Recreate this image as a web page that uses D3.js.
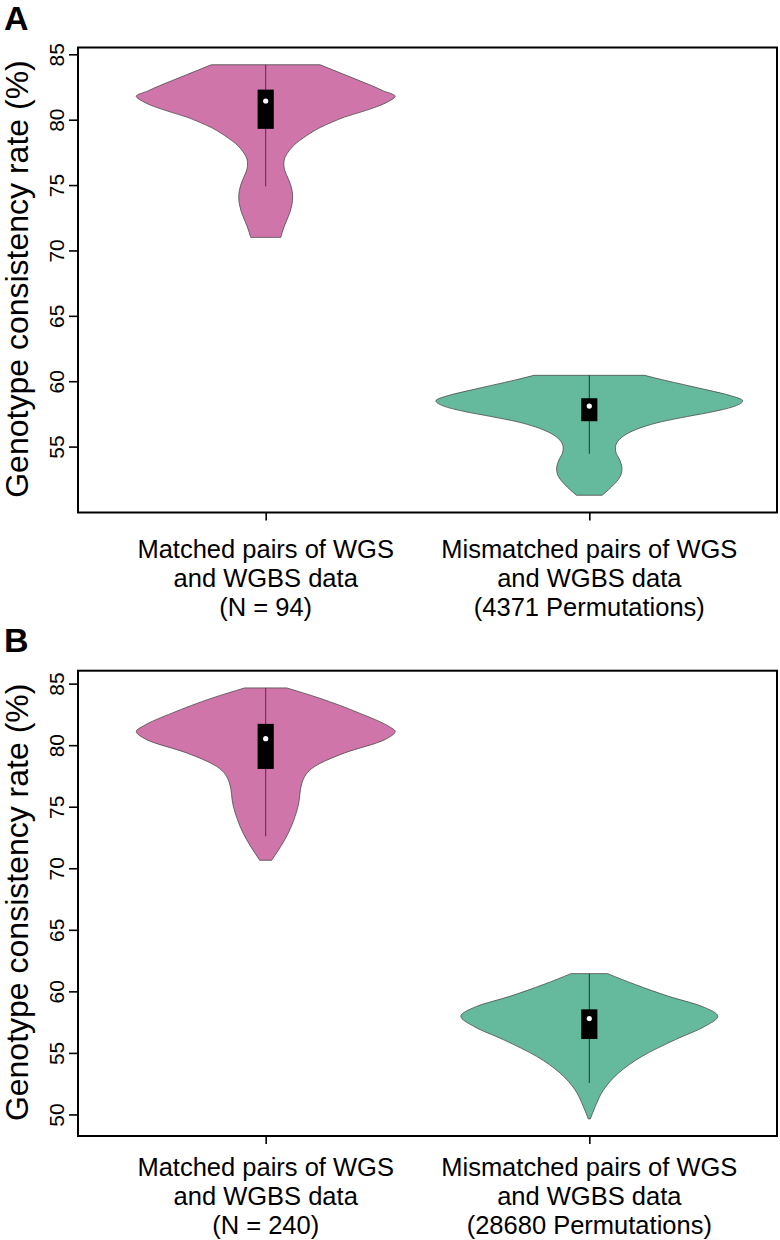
<!DOCTYPE html>
<html>
<head>
<meta charset="utf-8">
<script src="https://cdn.jsdelivr.net/npm/d3@7"></script>
<style>
  html, body { margin: 0; padding: 0; background: #fff; }
  svg { display: block; }
  text { font-family: "Liberation Sans", Arial, sans-serif; fill: #000; }
</style>
</head>
<body>
<svg id="chart" width="780" height="1240"></svg>
<script>
// ---------------- data ----------------
const panelLetters = ["A", "B"];
const categoryLine1 = ["Matched pairs of WGS", "Mismatched pairs of WGS"];
const categoryLine2 = ["and WGBS data", "and WGBS data"];
const countLabelsA = ["(N = 94)", "(4371 Permutations)"];
const countLabelsB = ["(N = 240)", "(28680 Permutations)"];
const yTicksA = [55, 60, 65, 70, 75, 80, 85];
const yTicksB = [50, 55, 60, 65, 70, 75, 80, 85];
const yTitle = "Genotype consistency rate (%)";

// violin outlines: [value (%), relative density]
const densMatchedA = [
  [84.2, 0.42], [83.8, 0.52], [83.4, 0.62], [83.0, 0.72], [82.6, 0.82], [82.2, 0.91],
  [81.8, 1.00], [81.4, 0.95], [81.0, 0.86], [80.6, 0.74], [80.2, 0.61], [79.8, 0.51],
  [79.4, 0.42], [79.0, 0.35], [78.6, 0.29], [78.2, 0.235], [77.8, 0.195], [77.4, 0.165],
  [77.0, 0.145], [76.6, 0.14], [76.2, 0.145], [75.8, 0.16], [75.4, 0.178], [75.0, 0.193],
  [74.6, 0.203], [74.2, 0.208], [73.8, 0.207], [73.4, 0.20], [73.0, 0.19], [72.6, 0.175],
  [72.2, 0.158], [71.8, 0.142], [71.4, 0.128], [71.0, 0.116]
];
const densMismatchedA = [
  [60.45, 0.36], [60.1, 0.48], [59.7, 0.63], [59.3, 0.78], [58.9, 0.92], [58.5, 1.00],
  [58.1, 0.95], [57.7, 0.82], [57.3, 0.64], [56.9, 0.47], [56.5, 0.35], [56.1, 0.265],
  [55.7, 0.21], [55.3, 0.18], [54.9, 0.17], [54.5, 0.175], [54.1, 0.193], [53.7, 0.207],
  [53.3, 0.213], [52.9, 0.208], [52.5, 0.19], [52.1, 0.16], [51.7, 0.125], [51.28, 0.084]
];
const densMatchedB = [
  [84.65, 0.162], [83.84, 0.41], [82.62, 0.72], [81.53, 0.95], [81.13, 1.00], [80.45, 0.92],
  [79.37, 0.61], [78.28, 0.38], [76.93, 0.28], [75.03, 0.25], [72.87, 0.175], [70.65, 0.046]
];
const densMismatchedB = [
  [61.44, 0.142], [60.55, 0.358], [59.6, 0.617], [58.78, 0.876], [57.97, 1.00], [57.16, 0.90],
  [56.08, 0.67], [54.72, 0.41], [53.37, 0.228], [52.0, 0.111], [50.66, 0.047], [49.64, 0.008]
];
// box stats: [q1, median, q3, whisker low, whisker high]
const boxA = [[79.3, 81.43, 82.3, 74.9, 84.2], [56.94, 58.1, 58.7, 54.45, 60.45]];
const boxB = [[78.07, 80.53, 81.73, 72.6, 84.65], [56.13, 57.79, 58.54, 52.56, 61.44]];
const violinColors = ["#D075AA", "#65BA9E"];

// ---------------- layout ----------------
const svg = d3.select("#chart");
const panels = [
  { letter: panelLetters[0], top: 47.5, bottom: 512.5, yDomain: [49.96, 85.52], ticks: yTicksA,
    counts: countLabelsA, dens: [densMatchedA, densMismatchedA], box: boxA, widthScale: [0.4, 0.474],
    labelOffset: 45, letterY: 30 },
  { letter: panelLetters[1], top: 670.7, bottom: 1136, yDomain: [48.25, 86.05], ticks: yTicksB,
    counts: countLabelsB, dens: [densMatchedB, densMismatchedB], box: boxB, widthScale: [0.4, 0.397],
    labelOffset: 39.5, letterY: 652 }
];
const left = 78, right = 777;
const x = d3.scaleLinear().domain([0.42, 2.58]).range([left, right]);

panels.forEach(p => {
  const g = svg.append("g");
  const y = d3.scaleLinear().domain(p.yDomain).range([p.bottom, p.top]);

  // violins
  p.dens.forEach((dens, i) => {
    const c = i + 1;
    const ws = p.widthScale[i];
    const area = d3.area()
      .y(d => y(d[0]))
      .x0(d => x(c - ws * d[1]))
      .x1(d => x(c + ws * d[1]))
      .curve(d3.curveMonotoneY);
    g.append("path").datum(dens)
      .attr("d", area)
      .attr("fill", violinColors[i])
      .attr("stroke", "#4a4a4a")
      .attr("stroke-width", 0.8);
    const b = p.box[i];
    g.append("line")
      .attr("x1", x(c)).attr("x2", x(c))
      .attr("y1", y(b[3])).attr("y2", y(b[4]))
      .attr("stroke", i === 0 ? "#5a2a48" : "#1f3a30").attr("stroke-width", 1);
    g.append("rect")
      .attr("x", x(c - 0.025)).attr("width", x(c + 0.025) - x(c - 0.025))
      .attr("y", y(b[2])).attr("height", y(b[0]) - y(b[2]))
      .attr("fill", "#000");
    g.append("circle")
      .attr("cx", x(c)).attr("cy", y(b[1])).attr("r", 2.6)
      .attr("fill", "#fff");
  });

  // frame
  g.append("rect")
    .attr("x", left).attr("y", p.top)
    .attr("width", right - left).attr("height", p.bottom - p.top)
    .attr("fill", "none").attr("stroke", "#000").attr("stroke-width", 2);

  // y axis
  const yAxis = d3.axisLeft(y).tickValues(p.ticks).tickSize(9).tickPadding(6);
  const ya = g.append("g").attr("transform", `translate(${left},0)`).call(yAxis);
  ya.select(".domain").remove();
  ya.selectAll(".tick line").attr("stroke", "#000").attr("stroke-width", 1.6);
  ya.selectAll(".tick text")
    .attr("x", 0).attr("dy", 0)
    .attr("transform", "translate(-14,0) rotate(-90)")
    .attr("text-anchor", "middle")
    .style("font-size", "21px")
    .style("font-family", "'Liberation Sans', Arial, sans-serif")
    .attr("fill", "#000");

  // x axis
  const xAxis = d3.axisBottom(x).tickValues([1, 2]).tickSize(8).tickFormat("");
  const xa = g.append("g").attr("transform", `translate(0,${p.bottom})`).call(xAxis);
  xa.select(".domain").remove();
  xa.selectAll(".tick line").attr("stroke", "#000").attr("stroke-width", 1.6);

  // category labels
  [1, 2].forEach((c, i) => {
    const t = g.append("text")
      .attr("x", x(c)).attr("y", p.bottom + p.labelOffset)
      .attr("text-anchor", "middle")
      .style("font-size", "25.5px");
    t.append("tspan").attr("x", x(c)).attr("dy", 0).text(categoryLine1[i]);
    t.append("tspan").attr("x", x(c)).attr("dy", 29.2).text(categoryLine2[i]);
    t.append("tspan").attr("x", x(c)).attr("dy", 29.2).text(p.counts[i]);
  });

  // y title
  g.append("text")
    .attr("transform", `translate(28,${(p.top + p.bottom) / 2 - 1}) rotate(-90)`)
    .attr("text-anchor", "middle")
    .style("font-size", "32px")
    .text(yTitle);

  // panel letter
  g.append("text")
    .attr("x", 4).attr("y", p.letterY)
    .style("font-size", "34px").style("font-weight", "bold")
    .text(p.letter);
});
</script>
</body>
</html>
